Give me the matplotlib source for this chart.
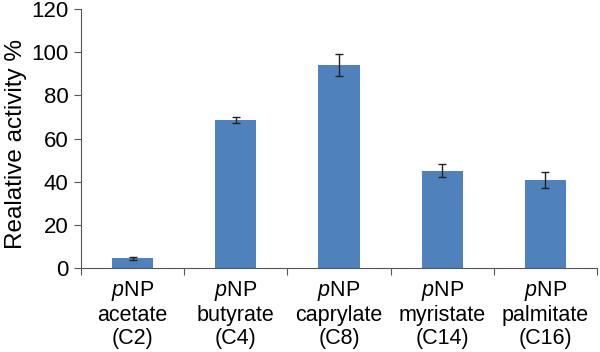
import matplotlib
matplotlib.use("Agg")
import matplotlib.pyplot as plt
import numpy as np

plt.rcParams['font.family'] = ['Liberation Sans', 'DejaVu Sans']
plt.rcParams['mathtext.fontset'] = 'custom'
plt.rcParams['mathtext.rm'] = 'Liberation Sans'
plt.rcParams['mathtext.it'] = 'Liberation Sans:italic'

substrates = ["acetate", "butyrate", "caprylate", "myristate", "palmitate"]
chains = ["C2", "C4", "C8", "C14", "C16"]
activity = [4.5, 68.5, 94.3, 45.0, 41.0]
errors = [0.8, 1.5, 5.1, 3.0, 3.7]

labels = ["$p$NP\n%s\n(%s)" % (s, c) for s, c in zip(substrates, chains)]

fig = plt.figure(figsize=(6, 3.52), dpi=100)
ax = fig.add_axes([0.135, 0.2386, 0.86, 0.7354])

x = np.arange(len(activity))
ax.bar(x, activity, width=0.4, color="#4F81BD",
       yerr=errors, capsize=3,
       error_kw=dict(ecolor="#222222", elinewidth=1, capthick=1))

ax.set_xlim(-0.5, len(activity) - 0.5)
ax.set_ylim(0, 120)
ax.set_yticks(range(0, 121, 20))
# category boundaries get the tick marks, names sit in between
ax.set_xticks(np.arange(-0.5, len(activity), 1.0), minor=False)
ax.set_xticklabels([])
ax.set_xticks(x, minor=True)
ax.set_xticklabels(labels, minor=True, fontsize=15.5, linespacing=1.12)
ax.tick_params(axis='x', which='minor', length=0, pad=8)
ax.tick_params(axis='x', which='major', length=5, direction='out', color='#555555')
ax.tick_params(axis='y', labelsize=16, length=5, pad=4, color='#555555')
ax.set_ylabel("Realative activity %", fontsize=17.5)
ax.yaxis.set_label_coords(-0.105, 0.48)

for side in ['top', 'right']:
    ax.spines[side].set_visible(False)
for side in ['left', 'bottom']:
    ax.spines[side].set_color('#555555')

fig.savefig("out.png", dpi=100)
